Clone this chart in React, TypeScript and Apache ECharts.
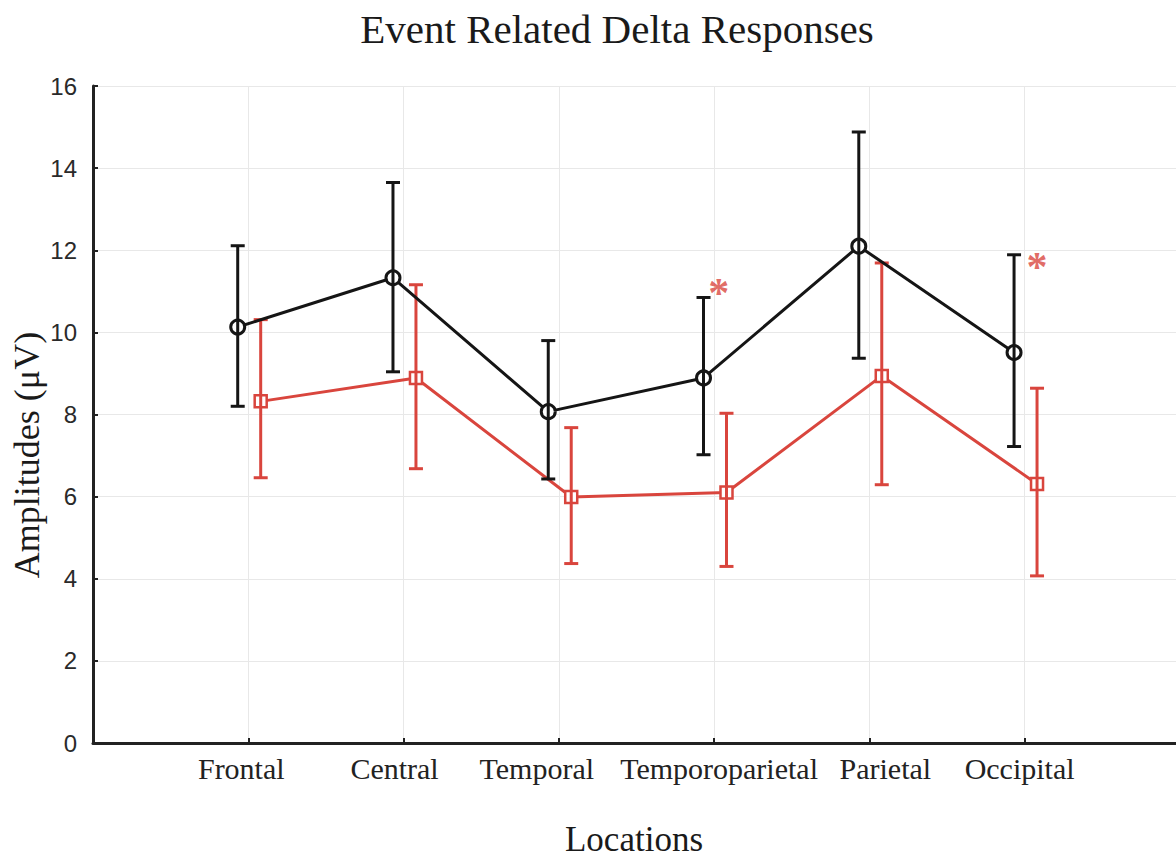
import React, { useEffect, useRef } from "react";
import * as echarts from "echarts";

const categories = ["Frontal", "Central", "Temporal", "Temporoparietal", "Parietal", "Occipital"];
const blackMean = [10.13, 11.33, 8.07, 8.89, 12.1, 9.51];
const blackLow = [8.2, 9.04, 6.43, 7.02, 9.37, 7.22];
const blackHigh = [12.11, 13.65, 9.8, 10.85, 14.88, 11.89];
const redMean = [8.32, 8.89, 5.99, 6.1, 8.94, 6.31];
const redLow = [6.46, 6.68, 4.37, 4.3, 6.29, 4.07];
const redHigh = [10.31, 11.16, 7.68, 8.03, 11.69, 8.64];
const sigY: (number | null)[] = [null, null, null, 10.95, null, 11.6];
const yTicks = [0, 2, 4, 6, 8, 10, 12, 14, 16];

const BLACK = "#151515";
const RED = "#d9453d";
const BLACK_OFF = -0.068;
const RED_OFF = 0.08;
// horizontal placement of the significance marks (layout)
const sigOff = [0, 0, 0, 0.03, 0, 0.08];
// label horizontal shifts (px), as in the reference layout
const labelShift = [-7, -9, -22, 5, 16, -5];

function errorRender(color: string) {
  return (params: any, api: any) => {
    const x = api.value(0);
    const lo = api.value(1);
    const hi = api.value(2);
    const pLo = api.coord([x, lo]);
    const pHi = api.coord([x, hi]);
    const w = 7;
    const st = { stroke: color, lineWidth: 3 };
    return {
      type: "group",
      children: [
        { type: "line", shape: { x1: pLo[0], y1: pLo[1], x2: pHi[0], y2: pHi[1] }, style: st },
        { type: "line", shape: { x1: pHi[0] - w, y1: pHi[1], x2: pHi[0] + w, y2: pHi[1] }, style: st },
        { type: "line", shape: { x1: pLo[0] - w, y1: pLo[1], x2: pLo[0] + w, y2: pLo[1] }, style: st },
      ],
    };
  };
}

export default function App() {
  const ref = useRef<HTMLDivElement>(null);
  useEffect(() => {
    document.body.style.margin = "0";
    const chart = echarts.init(ref.current!, null, { renderer: "svg" });
    const rich: any = {};
    categories.forEach((_, i) => {
      const d = labelShift[i];
      rich["s" + i] = {
        fontFamily: "Liberation Serif",
        fontSize: 30,
        color: "#222",
        padding: d > 0 ? [0, 0, 0, 2 * d] : [0, -2 * d, 0, 0],
      };
    });
    const sigData = sigY
      .map((v, i) => (v == null ? null : [i + 1 + sigOff[i], v]))
      .filter((d) => d != null);

    chart.setOption({
      animation: false,
      backgroundColor: "#ffffff",
      grid: { left: 93, top: 86, right: 0, height: 657, containLabel: false },
      xAxis: {
        type: "value",
        min: 0,
        max: 6.975,
        interval: 1,
        axisLine: { show: true, onZero: true, lineStyle: { color: "#222", width: 3 } },
        axisTick: { show: true, inside: true, length: 5, lineStyle: { color: "#222", width: 2 } },
        splitLine: { show: true, lineStyle: { color: "#e8e8e8", width: 1 } },
        axisLabel: {
          margin: 10,
          showMaxLabel: false,
          fontFamily: "Liberation Serif",
          fontSize: 30,
          color: "#222",
          formatter: (v: number) => {
            const i = Math.round(v) - 1;
            if (i < 0 || i >= categories.length) return "";
            return "{s" + i + "|" + categories[i] + "}";
          },
          rich,
        },
      },
      yAxis: {
        type: "value",
        min: yTicks[0],
        max: yTicks[yTicks.length - 1],
        interval: 2,
        axisLine: { show: true, lineStyle: { color: "#222", width: 3 } },
        axisTick: { show: true, inside: true, length: 5, lineStyle: { color: "#222", width: 2 } },
        splitLine: { show: true, lineStyle: { color: "#e8e8e8", width: 1 } },
        axisLabel: {
          margin: 16,
          fontFamily: "Liberation Sans",
          fontSize: 24,
          color: "#2a2a2a",
        },
      },
      graphic: [
        {
          type: "text",
          x: 617,
          y: 29,
          style: {
            text: "Event Related Delta Responses",
            font: "41px 'Liberation Serif'",
            fill: "#1a1a1a",
            textAlign: "center",
            textVerticalAlign: "middle",
          },
        },
        {
          type: "text",
          x: 634,
          y: 839,
          style: {
            text: "Locations",
            font: "35px 'Liberation Serif'",
            fill: "#1a1a1a",
            textAlign: "center",
            textVerticalAlign: "middle",
          },
        },
        {
          type: "text",
          x: 27,
          y: 455,
          rotation: Math.PI / 2,
          style: {
            text: "Amplitudes (\u03bcV)",
            font: "36px 'Liberation Serif'",
            fill: "#1a1a1a",
            textAlign: "center",
            textVerticalAlign: "middle",
          },
        },
      ],
      series: [
        {
          type: "line",
          z: 2,
          data: redMean.map((v, i) => [i + 1 + RED_OFF, v]),
          symbol: "rect",
          symbolSize: 12,
          lineStyle: { color: RED, width: 3 },
          itemStyle: { color: "#ffffff", borderColor: RED, borderWidth: 2.5 },
        },
        {
          type: "custom",
          z: 3,
          data: redMean.map((_, i) => [i + 1 + RED_OFF, redLow[i], redHigh[i]]),
          encode: { x: 0, y: [1, 2] },
          renderItem: errorRender(RED),
        },
        {
          type: "line",
          z: 4,
          data: blackMean.map((v, i) => [i + 1 + BLACK_OFF, v]),
          symbol: "circle",
          symbolSize: 14,
          lineStyle: { color: BLACK, width: 3 },
          itemStyle: { color: "#ffffff", borderColor: BLACK, borderWidth: 3 },
        },
        {
          type: "custom",
          z: 5,
          data: blackMean.map((_, i) => [i + 1 + BLACK_OFF, blackLow[i], blackHigh[i]]),
          encode: { x: 0, y: [1, 2] },
          renderItem: errorRender(BLACK),
        },
        {
          type: "scatter",
          z: 6,
          data: sigData,
          symbolSize: 2,
          itemStyle: { color: "rgba(0,0,0,0)" },
          label: {
            show: true,
            position: "inside",
            formatter: "*",
            fontFamily: "Liberation Serif",
            fontWeight: "bold",
            fontSize: 42,
            color: RED,
          },
        },
      ],
    });
    return () => chart.dispose();
  }, []);
  return <div ref={ref} style={{ width: 1176, height: 857 }} />;
}
